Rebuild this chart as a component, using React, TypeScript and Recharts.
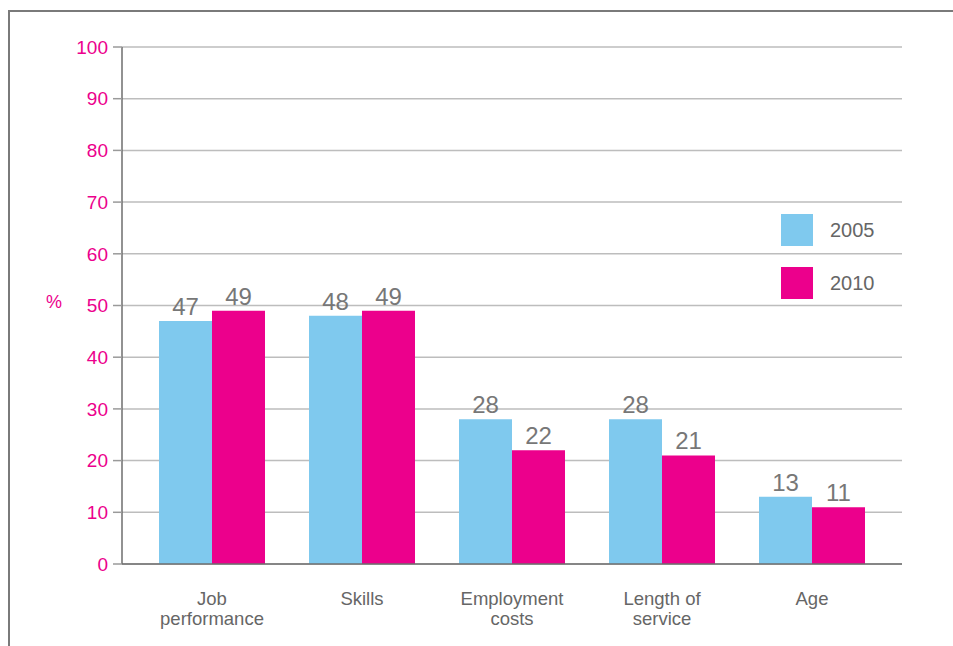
import { BarChart, Bar, XAxis, YAxis, CartesianGrid, Legend, LabelList } from "recharts";

const categories = ["Job performance", "Skills", "Employment costs", "Length of service", "Age"];
const values2005 = [47, 48, 28, 28, 13];
const values2010 = [49, 49, 22, 21, 11];
const yTicks = [0, 10, 20, 30, 40, 50, 60, 70, 80, 90, 100];
const seriesNames = ["2005", "2010"];

const BLUE = "#7fc9ee";
const PINK = "#ec008c";
const FONT = "'Liberation Sans', Arial, sans-serif";

const data = categories.map((c, i) => ({ name: c, y2005: values2005[i], y2010: values2010[i] }));

function CategoryTick({ x, y, payload }: any) {
  const words = String(payload.value).split(" ");
  let lines = words.length > 1 ? [words.slice(0, -1).join(" "), words[words.length - 1]] : words;
  if (payload.value === "Length of service") lines = ["Length of", "service"];
  return (
    <text x={x} y={y} textAnchor="middle" fill="#666" fontSize={18.5} fontFamily={FONT}>
      {lines.map((l: string, i: number) => (
        <tspan key={i} x={x} dy={i === 0 ? 33 : 20}>
          {l}
        </tspan>
      ))}
    </text>
  );
}

function LegendBox() {
  const colors = [BLUE, PINK];
  return (
    <div style={{ fontFamily: FONT }}>
      {seriesNames.map((n, i) => (
        <div key={n} style={{ display: "flex", alignItems: "center", height: 32, marginBottom: 21 }}>
          <div style={{ width: 32, height: 32, background: colors[i] }} />
          <span style={{ marginLeft: 17, fontSize: 20, color: "#666" }}>{n}</span>
        </div>
      ))}
    </div>
  );
}

export default function App() {
  return (
    <div style={{ position: "fixed", left: 0, top: 0, width: 953, height: 646, background: "#fff", overflow: "hidden" }}>
      <div
        style={{
          position: "absolute",
          left: 8,
          top: 10,
          width: 1000,
          height: 700,
          borderTop: "2px solid #7a7a7a",
          borderLeft: "2px solid #7a7a7a",
        }}
      />
      <div style={{ position: "absolute", left: 46, top: 292, color: PINK, fontSize: 18, fontFamily: FONT }}>%</div>
      <div style={{ position: "absolute", left: 0, top: 0 }}>
        <BarChart
          width={953}
          height={646}
          data={data}
          margin={{ top: 47, right: 51, bottom: 0, left: 0 }}
          barCategoryGap={22}
          barGap={0}
        >
          <CartesianGrid vertical={false} stroke="#bdbdbd" strokeWidth={1.5} />
          <XAxis
            dataKey="name"
            height={82}
            padding={{ left: 15, right: 15 }}
            tickLine={false}
            axisLine={{ stroke: "#6e6e6e", strokeWidth: 1.5 }}
            tick={<CategoryTick />}
            interval={0}
          />
          <YAxis
            width={122}
            domain={[0, 100]}
            ticks={yTicks}
            interval={0}
            tickSize={9}
            tickMargin={5}
            tickLine={{ stroke: "#9a9a9a", strokeWidth: 1.5 }}
            axisLine={{ stroke: "#6e6e6e", strokeWidth: 1.5 }}
            tick={{ fill: PINK, fontSize: 19, fontFamily: FONT }}
          />
          <Legend
            layout="horizontal"
            verticalAlign="middle"
            align="center"
            content={<LegendBox />}
            wrapperStyle={{ position: "absolute", left: 781, top: 214, width: 120 }}
          />
          <Bar dataKey="y2005" name={seriesNames[0]} fill={BLUE} isAnimationActive={false}>
            <LabelList dataKey="y2005" position="top" offset={6} fill="#777" fontSize={24} fontFamily={FONT} />
          </Bar>
          <Bar dataKey="y2010" name={seriesNames[1]} fill={PINK} isAnimationActive={false}>
            <LabelList dataKey="y2010" position="top" offset={6} fill="#777" fontSize={24} fontFamily={FONT} />
          </Bar>
        </BarChart>
      </div>
    </div>
  );
}
